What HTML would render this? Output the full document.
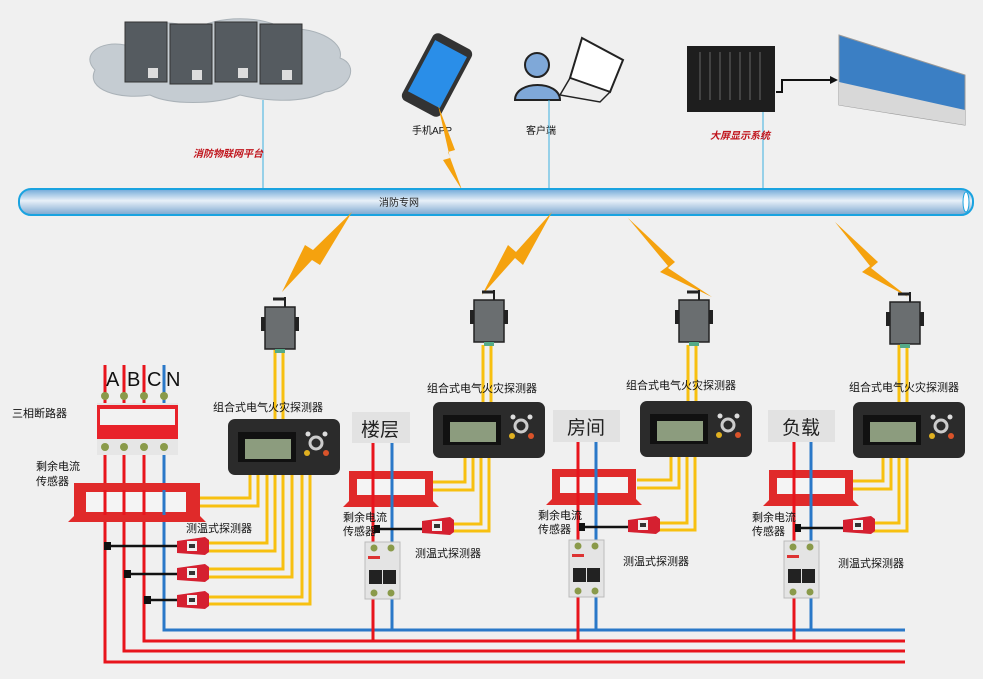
<!DOCTYPE html>
<html><head><meta charset="utf-8"><style>
html,body{margin:0;padding:0;background:#f0f0f0}
svg{display:block}
text{font-family:"Liberation Sans","Noto Sans CJK SC",sans-serif}
</style></head><body>
<svg width="983" height="679" viewBox="0 0 983 679" xmlns="http://www.w3.org/2000/svg">
<defs>
<linearGradient id="pipe" x1="0" y1="0" x2="0" y2="1">
<stop offset="0" stop-color="#6fa8d8"/><stop offset="0.45" stop-color="#e8f0f8"/><stop offset="1" stop-color="#7aa6cf"/></linearGradient>
<g id="det">
<rect x="0" y="0" width="112" height="56" rx="7" fill="#2b2b2b"/>
<rect x="10" y="13" width="58" height="30" fill="#111"/>
<rect x="17" y="20" width="46" height="20" fill="#8c9c7e"/>
<circle cx="88" cy="24" r="6" fill="none" stroke="#ccc" stroke-width="3"/>
<circle cx="80" cy="15" r="2.5" fill="#ddd"/><circle cx="97" cy="15" r="2.5" fill="#ddd"/>
<circle cx="79" cy="34" r="3" fill="#e0b020"/><circle cx="98" cy="34" r="3" fill="#d9532a"/>
</g>
<g id="gw">
<line x1="8" y1="-6" x2="20" y2="-6" stroke="#222" stroke-width="3"/>
<line x1="20" y1="-8" x2="20" y2="2" stroke="#222" stroke-width="2"/>
<rect x="-4" y="12" width="5" height="14" fill="#222"/><rect x="29" y="12" width="5" height="14" fill="#222"/>
<rect x="0" y="2" width="30" height="42" fill="#6a6e70" stroke="#222" stroke-width="1.5"/>
<rect x="10" y="44" width="10" height="4" fill="#5a8"/>
</g>
<g id="sens">
<path d="M6 0 H90 V30 L96 36 H0 L6 30 Z" fill="#e02a2a"/>
<rect x="14" y="8" width="68" height="16" fill="#f4f4f4"/>
</g>
<g id="temp">
<path d="M0 4 L28 0 L32 3 V15 L28 18 L0 16 Z" fill="#d52030"/>
<rect x="10" y="4" width="10" height="10" fill="#f0f0f0"/>
<rect x="12" y="7" width="6" height="4" fill="#333"/>
</g>
<g id="brk">
<rect x="0" y="0" width="35" height="57" fill="#e4e4e4" stroke="#bbb"/>
<circle cx="9" cy="6" r="3.5" fill="#8a9a4a"/><circle cx="26" cy="6" r="3.5" fill="#8a9a4a"/>
<rect x="3" y="14" width="12" height="3" fill="#d33"/>
<rect x="4" y="28" width="27" height="14" fill="#222"/>
<line x1="17.5" y1="28" x2="17.5" y2="42" stroke="#e4e4e4"/>
<circle cx="9" cy="51" r="3.5" fill="#8a9a4a"/><circle cx="26" cy="51" r="3.5" fill="#8a9a4a"/>
</g>
</defs>

<!-- cloud -->
<path d="M95 70 C80 55 100 40 125 45 C135 20 175 18 195 30 C215 15 265 15 285 30 C310 25 345 40 340 58 C360 65 350 90 325 92 C300 105 260 100 240 95 C215 105 170 105 150 95 C120 100 85 90 95 70 Z" fill="#c5ccd2" stroke="#aab2b8"/>
<g fill="#555b60" stroke="#333">
<rect x="125" y="22" width="42" height="60"/><rect x="170" y="24" width="42" height="60"/>
<rect x="215" y="22" width="42" height="60"/><rect x="260" y="24" width="42" height="60"/>
</g>
<g fill="#ddd"><rect x="148" y="68" width="10" height="10"/><rect x="192" y="70" width="10" height="10"/><rect x="238" y="68" width="10" height="10"/><rect x="282" y="70" width="10" height="10"/></g>
<line x1="263" y1="100" x2="263" y2="192" stroke="#3bb0e0"/>
<text x="193" y="157" font-size="10" fill="#c0141c" font-style="italic" font-weight="bold">消防物联网平台</text>

<!-- phone -->
<g transform="translate(437 75) rotate(28)">
<rect x="-22" y="-38" width="44" height="76" rx="6" fill="#333"/>
<rect x="-18" y="-30" width="36" height="58" fill="#2a8ee8"/>
</g>
<text x="412" y="134" font-size="10" fill="#111">手机APP</text>
<path d="M438 105 L455 150 L448 152 L462 190 L443 160 L450 158 Z" fill="#f5a20e"/>

<!-- person laptop -->
<circle cx="537" cy="65" r="12" fill="#7fa8d8" stroke="#222" stroke-width="2"/>
<path d="M515 100 C515 80 560 80 560 100 Z" fill="#7fa8d8" stroke="#222" stroke-width="2"/>
<path d="M582 38 L623 60 L610 92 L570 78 Z" fill="#fff" stroke="#222" stroke-width="2"/>
<path d="M560 95 L570 78 L610 92 L600 102 Z" fill="#eee" stroke="#222" stroke-width="1.5"/>
<text x="526" y="134" font-size="10" fill="#111">客户端</text>
<line x1="549" y1="100" x2="549" y2="192" stroke="#3bb0e0"/>

<!-- rack + wall -->
<rect x="687" y="46" width="88" height="66" fill="#1e1e1e"/>
<g stroke="#666"><line x1="700" y1="52" x2="700" y2="100"/><line x1="710" y1="52" x2="710" y2="100"/><line x1="720" y1="52" x2="720" y2="100"/><line x1="730" y1="52" x2="730" y2="100"/><line x1="740" y1="52" x2="740" y2="100"/><line x1="750" y1="52" x2="750" y2="100"/><line x1="760" y1="52" x2="760" y2="100"/></g>
<path d="M776 92 H782 V80 H834" stroke="#111" stroke-width="2" fill="none"/>
<path d="M830 76 L838 80 L830 84 Z" fill="#111"/>
<path d="M839 35 L965 75 V125 L839 105 Z" fill="#3b7fc4" stroke="#999"/>
<path d="M839 82 L965 110 V125 L839 105 Z" fill="#d8d8d8"/>
<line x1="763" y1="112" x2="763" y2="192" stroke="#3bb0e0"/>
<text x="710" y="139" font-size="10" fill="#c0141c" font-style="italic" font-weight="bold">大屏显示系统</text>

<!-- pipe -->
<rect x="19" y="189" width="954" height="26" rx="12" fill="url(#pipe)" stroke="#1aa3e0" stroke-width="2"/>
<ellipse cx="966" cy="202" rx="3" ry="10" fill="#fff" stroke="#1aa3e0"/>
<text x="379" y="206" font-size="10" fill="#222">消防专网</text>

<!-- bolts -->
<g fill="#f5a20e">
<path d="M352 212 L320 265 L312 260 L282 292 L305 245 L313 250 Z"/>
<path d="M552 212 L523 265 L515 258 L482 295 L508 245 L516 252 Z"/>
<path d="M628 218 L675 262 L668 268 L712 297 L660 272 L668 266 Z"/>
<path d="M835 222 L878 262 L871 268 L908 297 L862 272 L870 266 Z"/>
</g>

<!-- gateways & yellow to detectors -->
<g stroke="#f7c010" stroke-width="3" fill="none">
<path d="M275 350 V420"/><path d="M283 350 V420"/>
<path d="M483 345 V404"/><path d="M491 345 V404"/>
<path d="M688 345 V403"/><path d="M696 345 V403"/>
<path d="M899 345 V404"/><path d="M907 345 V404"/>
</g>
<use href="#gw" x="265" y="305"/>
<use href="#gw" x="474" y="298"/>
<use href="#gw" x="679" y="298"/>
<use href="#gw" x="890" y="300"/>

<!-- main 3-phase -->
<g stroke-width="3" fill="none">
<path d="M105 365 V662 H905" stroke="#e8141c"/>
<path d="M124 365 V651 H905" stroke="#e8141c"/>
<path d="M144 365 V641 H905" stroke="#e8141c"/>
<path d="M164 365 V630 H905" stroke="#2a78c8"/>
</g>
<text x="106" y="386" font-size="20" fill="#111">A</text>
<text x="127" y="386" font-size="20" fill="#111">B</text>
<text x="147" y="386" font-size="20" fill="#111">C</text>
<text x="166" y="386" font-size="20" fill="#111">N</text>
<rect x="97" y="403" width="81" height="52" fill="#e6e6e6"/>
<rect x="97" y="405" width="81" height="34" fill="#e8222a"/>
<rect x="100" y="409" width="75" height="16" fill="#f2f2f2"/>
<g fill="#8a9a4a"><circle cx="105" cy="396" r="4"/><circle cx="124" cy="396" r="4"/><circle cx="144" cy="396" r="4"/><circle cx="164" cy="396" r="4"/><circle cx="105" cy="447" r="4"/><circle cx="124" cy="447" r="4"/><circle cx="144" cy="447" r="4"/><circle cx="164" cy="447" r="4"/></g>
<text x="12" y="417" font-size="11" fill="#111">三相断路器</text>
<text x="36" y="470" font-size="11" fill="#111">剩余电流</text>
<text x="36" y="485" font-size="11" fill="#111">传感器</text>

<g stroke="#f7c010" stroke-width="3" fill="none">
<path d="M250 474 V498 H200"/><path d="M258 474 V506 H200"/>
<path d="M267 474 V543 H205"/><path d="M275 474 V551 H205"/>
<path d="M283 474 V569 H205"/><path d="M292 474 V577 H205"/>
<path d="M302 474 V597 H205"/><path d="M310 474 V604 H205"/>
</g>
<path d="M74 483 H200 V516 L206 522 H68 L74 516 Z" fill="#e02a2a"/>
<rect x="86" y="492" width="100" height="20" fill="#f4f4f4"/>
<g stroke="#e8141c" stroke-width="3"><line x1="105" y1="490" x2="105" y2="515"/><line x1="124" y1="490" x2="124" y2="515"/><line x1="144" y1="490" x2="144" y2="515"/></g>
<line x1="164" y1="490" x2="164" y2="515" stroke="#2a78c8" stroke-width="3"/>
<g stroke="#111" stroke-width="2.5"><line x1="108" y1="546" x2="180" y2="546"/><line x1="128" y1="574" x2="180" y2="574"/><line x1="147" y1="600" x2="180" y2="600"/></g>
<g fill="#111"><rect x="104" y="542" width="7" height="8"/><rect x="124" y="570" width="7" height="8"/><rect x="144" y="596" width="7" height="8"/></g>
<use href="#temp" x="177" y="537"/><use href="#temp" x="177" y="564"/><use href="#temp" x="177" y="591"/>
<text x="186" y="532" font-size="11" fill="#111">测温式探测器</text>
<text x="213" y="411" font-size="11" fill="#111">组合式电气火灾探测器</text>
<use href="#det" x="228" y="419"/>

<!-- sub circuits -->
<!-- 楼层 -->
<rect x="352" y="412" width="58" height="31" fill="#e2e2e2"/>
<text x="361" y="436" font-size="19" fill="#222">楼层</text>
<g stroke="#f7c010" stroke-width="3" fill="none">
<path d="M465 456 V482 H432"/><path d="M473 456 V490 H432"/>
<path d="M481 456 V524 H452"/><path d="M489 456 V531 H452"/>
</g>
<use href="#sens" x="343" y="471"/>
<path d="M373 443 V641" stroke="#e8141c" stroke-width="3"/>
<path d="M392 443 V630" stroke="#2a78c8" stroke-width="3"/>
<line x1="377" y1="529" x2="425" y2="529" stroke="#111" stroke-width="2.5"/><rect x="374" y="525" width="6" height="8" fill="#111"/>
<use href="#temp" x="422" y="517"/>
<use href="#brk" x="365" y="542"/>
<text x="343" y="521" font-size="11" fill="#111">剩余电流</text><text x="343" y="535" font-size="11" fill="#111">传感器</text>
<text x="415" y="557" font-size="11" fill="#111">测温式探测器</text>
<text x="427" y="392" font-size="11" fill="#111">组合式电气火灾探测器</text>
<use href="#det" x="433" y="402"/>

<!-- 房间 -->
<rect x="553" y="410" width="67" height="32" fill="#e2e2e2"/>
<text x="567" y="434" font-size="19" fill="#222">房间</text>
<g stroke="#f7c010" stroke-width="3" fill="none">
<path d="M671 455 V480 H637"/><path d="M679 455 V488 H637"/>
<path d="M687 455 V523 H658"/><path d="M695 455 V530 H658"/>
</g>
<use href="#sens" x="546" y="469"/>
<path d="M578 442 V641" stroke="#e8141c" stroke-width="3"/>
<path d="M596 442 V630" stroke="#2a78c8" stroke-width="3"/>
<line x1="582" y1="527" x2="632" y2="527" stroke="#111" stroke-width="2.5"/><rect x="579" y="523" width="6" height="8" fill="#111"/>
<use href="#temp" x="628" y="516"/>
<use href="#brk" x="569" y="540"/>
<text x="538" y="519" font-size="11" fill="#111">剩余电流</text><text x="538" y="533" font-size="11" fill="#111">传感器</text>
<text x="623" y="565" font-size="11" fill="#111">测温式探测器</text>
<text x="626" y="389" font-size="11" fill="#111">组合式电气火灾探测器</text>
<use href="#det" x="640" y="401"/>

<!-- 负载 -->
<rect x="768" y="410" width="67" height="32" fill="#e2e2e2"/>
<text x="782" y="434" font-size="19" fill="#222">负载</text>
<g stroke="#f7c010" stroke-width="3" fill="none">
<path d="M883 455 V481 H850"/><path d="M891 455 V489 H850"/>
<path d="M899 455 V523 H872"/><path d="M907 455 V531 H872"/>
</g>
<use href="#sens" x="763" y="470"/>
<path d="M794 442 V641" stroke="#e8141c" stroke-width="3"/>
<path d="M811 442 V630" stroke="#2a78c8" stroke-width="3"/>
<line x1="798" y1="528" x2="846" y2="528" stroke="#111" stroke-width="2.5"/><rect x="795" y="524" width="6" height="8" fill="#111"/>
<use href="#temp" x="843" y="516"/>
<use href="#brk" x="784" y="541"/>
<text x="752" y="521" font-size="11" fill="#111">剩余电流</text><text x="752" y="535" font-size="11" fill="#111">传感器</text>
<text x="838" y="567" font-size="11" fill="#111">测温式探测器</text>
<text x="849" y="391" font-size="11" fill="#111">组合式电气火灾探测器</text>
<use href="#det" x="853" y="402"/>
</svg>
</body></html>
